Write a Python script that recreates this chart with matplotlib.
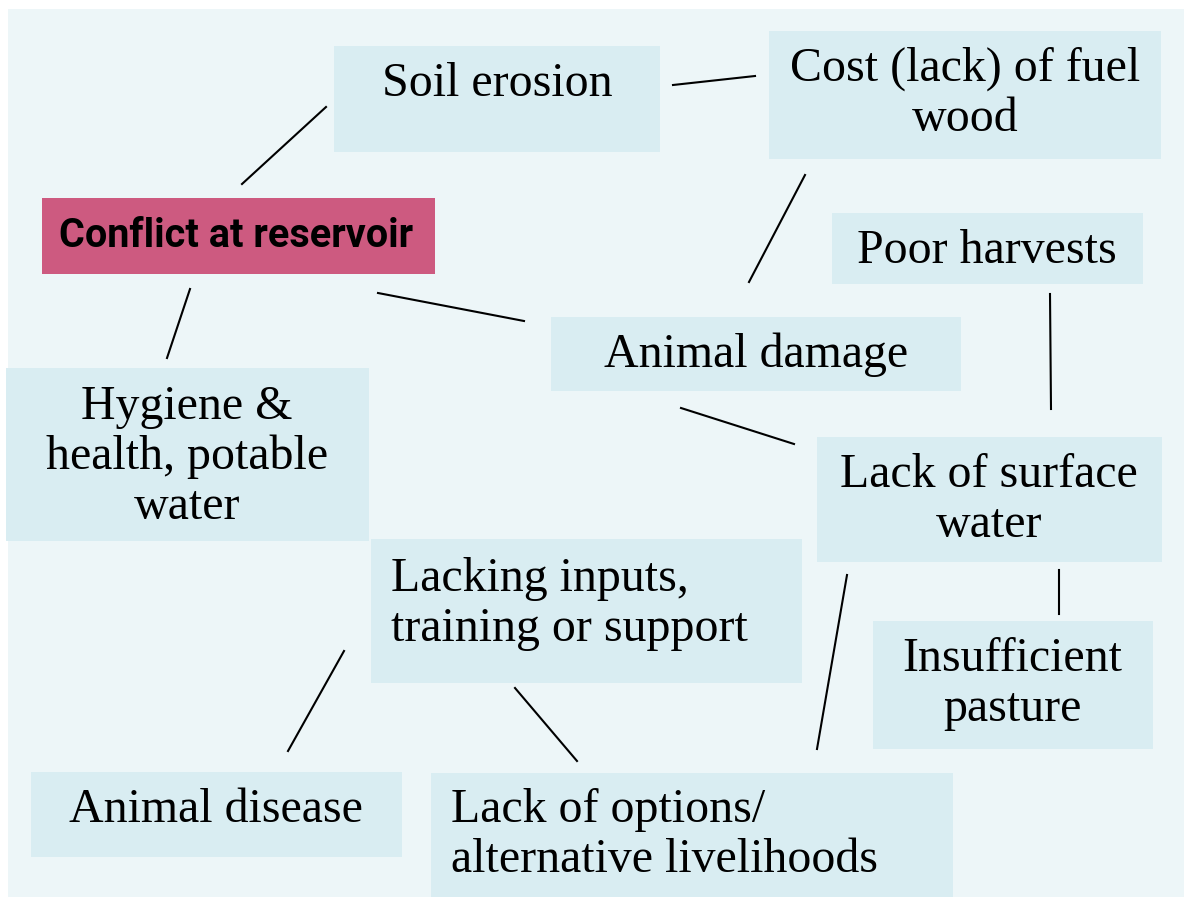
import matplotlib.pyplot as plt
from matplotlib.patches import Rectangle

# box label, box extent (x0, y0, x1, y1) in pixels, text anchor
labels = ["Soil erosion", "Cost (lack) of fuel\nwood", "Poor harvests",
          "Conflict at reservoir", "Animal damage", "Hygiene &\nhealth, potable\nwater",
          "Lack of surface\nwater", "Lacking inputs,\ntraining or support",
          "Insufficient\npasture", "Animal disease",
          "Lack of options/\nalternative livelihoods"]
boxes = [(334, 46, 660, 152), (769, 31, 1161, 159), (832, 213, 1143, 284),
         (42, 198, 435, 274), (551, 317, 961, 391), (6, 368, 369, 541),
         (817, 437, 1162, 562), (371, 539, 802, 683), (873, 621, 1153, 749),
         (31, 772, 402, 857), (431, 773, 953, 897)]
text_pos = [(497, 84, 'center'), (965, 94, 'center'), (987, 251, 'center'),
            (236, 236, 'center'), (756, 355, 'center'), (187, 457, 'center'),
            (989, 500, 'center'), (391, 604, 'left'), (1012, 684, 'center'),
            (216, 810, 'center'), (451, 835, 'left')]

# connector lines
links = [((242, 184), (326, 107)), ((673, 85), (755, 76)), ((805, 175), (749, 282)),
         ((378, 293), (524, 321)), ((190, 289), (167, 358)), ((1050, 294), (1051, 409)),
         ((681, 408), (794, 444)), ((1059, 570), (1059, 614)), ((847, 575), (817, 749)),
         ((344, 651), (288, 751)), ((515, 688), (577, 761))]

fig = plt.figure(figsize=(11.84, 8.97), dpi=100)
ax = fig.add_axes([0, 0, 1, 1])
ax.set_xlim(0, 1184)
ax.set_ylim(897, 0)
ax.axis('off')

ax.add_patch(Rectangle((8, 9), 1176, 888, facecolor='#edf6f8', edgecolor='none'))

for i, (lab, b, t) in enumerate(zip(labels, boxes, text_pos)):
    main = lab.startswith("Conflict")
    ax.add_patch(Rectangle((b[0], b[1]), b[2] - b[0], b[3] - b[1],
                           facecolor='#cd5a80' if main else '#d9edf2', edgecolor='none'))
    if main:
        ax.text(t[0], t[1], lab, ha=t[2], va='center', fontsize=28.5, fontweight='bold',
                family=['Roboto', 'DejaVu Sans'], color='black')
    else:
        ax.text(t[0], t[1], lab, ha=t[2], va='center', fontsize=34.5, multialignment=t[2],
                family=['Liberation Serif', 'DejaVu Serif'], linespacing=1.17, color='black')

for (p, q) in links:
    ax.plot([p[0], q[0]], [p[1], q[1]], color='black', lw=1.5)

fig.savefig('out.png', dpi=100)
